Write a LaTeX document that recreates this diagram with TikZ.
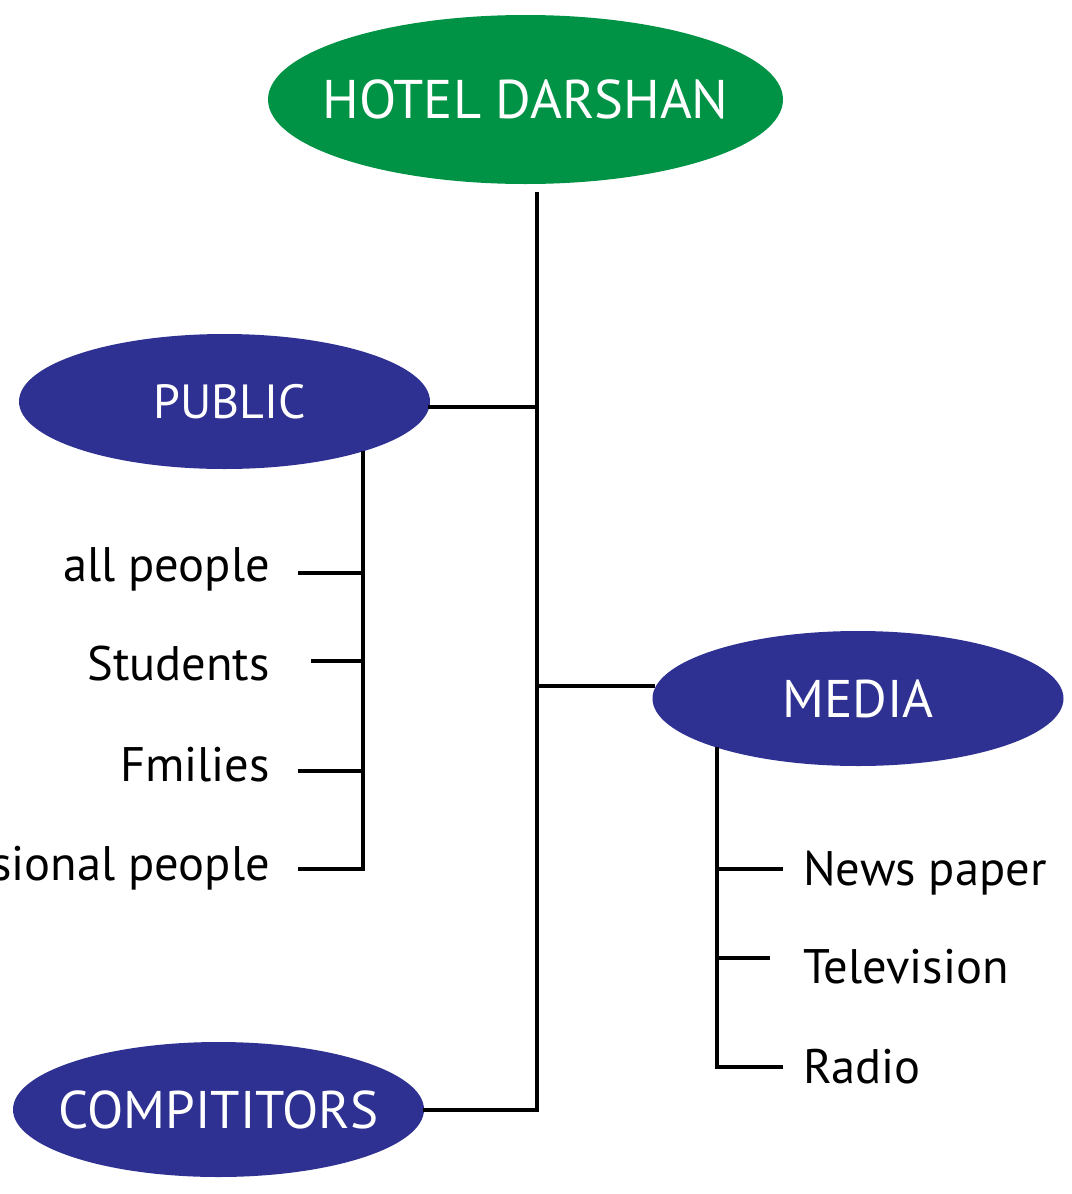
\documentclass[tikz,border=0pt]{standalone}
\usepackage{fontspec}
\setmainfont{PT Sans}
\usetikzlibrary{shapes.geometric}
\definecolor{hgreen}{HTML}{009245}
\definecolor{hblue}{HTML}{2E3192}
\begin{document}
\begin{tikzpicture}[x=1pt,y=-1pt,
  oval/.style={ellipse, inner sep=0pt, text=white, minimum width=411pt, minimum height=135pt},
  lab/.style={inner sep=0pt, font=\fontsize{48.5}{52}\selectfont},
  conn/.style={line width=3.5pt, line cap=butt}]
\useasboundingbox (0,0) rectangle (1071,1194);
% ellipses
\node[oval, fill=hgreen, minimum width=515pt, minimum height=169pt, font=\fontsize{54.5}{58}\selectfont] (hotel) at (525.5,99.5) {\makebox[0pt]{HOTEL DARSHAN}};
\node[oval, fill=hblue, font=\fontsize{48}{52}\selectfont] (public) at (224.5,401.5) {\makebox[0pt]{\hspace*{11pt}PUBLIC}};
\node[oval, fill=hblue, font=\fontsize{53}{56}\selectfont] (media) at (858,698.5) {\makebox[0pt]{MEDIA}};
\node[oval, fill=hblue, font=\fontsize{53}{56}\selectfont] (comp) at (218.5,1109.5) {\makebox[0pt]{COMPITITORS}};
% left labels
\node[lab, anchor=base east] (l1) at (270,581) {all people};
\node[lab, anchor=base east] (l2) at (270,680) {Students};
\node[lab, anchor=base east] (l3) at (270,781) {Fmilies};
\node[lab, anchor=base east] (l4) at (270,880) {professional people};
% right labels
\node[lab, anchor=base west] (r1) at (803,885) {News paper};
\node[lab, anchor=base west] (r2) at (803,983) {Television};
\node[lab, anchor=base west] (r3) at (803,1083) {Radio};
% coordinates
\coordinate (mtop) at (537,192);
\coordinate (mpub) at (537,407);
\coordinate (mmed) at (537,686);
\coordinate (mbot) at (537,1110);
\coordinate (pubR) at (428,407);
\coordinate (medL) at (655,686);
\coordinate (compR) at (423,1110);
\coordinate (pv) at (363,451);
\coordinate (pj1) at (363,573); \coordinate (pe1) at (298,573);
\coordinate (pj2) at (363,661); \coordinate (pe2) at (311,661);
\coordinate (pj3) at (363,771); \coordinate (pe3) at (298,771);
\coordinate (pj4) at (363,869); \coordinate (pe4) at (298,869);
\coordinate (mv) at (717,747);
\coordinate (mj1) at (717,869); \coordinate (me1) at (783,869);
\coordinate (mj2) at (717,958); \coordinate (me2) at (770,958);
\coordinate (mj3) at (717,1067); \coordinate (me3) at (783,1067);
% connectors
\draw[conn] (mtop) -- (mbot) -- (compR);
\draw[conn] (pubR) -- (mpub);
\draw[conn] (mmed) -- (medL);
\draw[conn] (pv) -- (pj4) -- (pe4);
\draw[conn] (pj1) -- (pe1);
\draw[conn] (pj2) -- (pe2);
\draw[conn] (pj3) -- (pe3);
\draw[conn] (mv) -- (mj3) -- (me3);
\draw[conn] (mj1) -- (me1);
\draw[conn] (mj2) -- (me2);
\end{tikzpicture}
\end{document}
